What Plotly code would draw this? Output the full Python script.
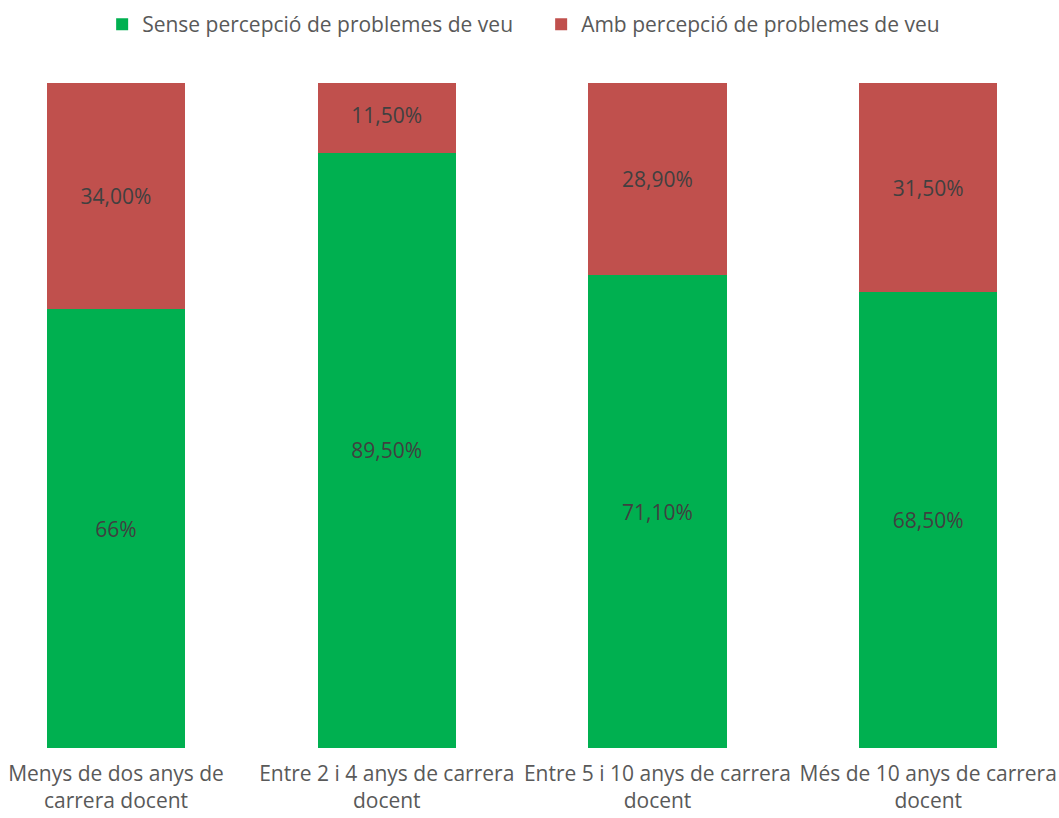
import plotly.graph_objects as go

categories = ["Menys de dos anys de<br>carrera docent",
              "Entre 2 i 4 anys de carrera<br>docent",
              "Entre 5 i 10 anys de carrera<br>docent",
              "Més de 10 anys de carrera<br>docent"]
sense = [66.0, 89.5, 71.1, 68.5]
amb = [34.0, 11.5, 28.9, 31.5]
sense_labels = ["66%", "89,50%", "71,10%", "68,50%"]
amb_labels = ["34,00%", "11,50%", "28,90%", "31,50%"]

FONT = "Open Sans, Noto Sans, sans-serif"

fig = go.Figure()
fig.add_trace(go.Bar(x=categories, y=sense, name="Sense percepció de problemes de veu",
                     marker=dict(color="#00B050", line=dict(width=0)),
                     text=sense_labels, textposition="inside", insidetextanchor="middle",
                     textangle=0, constraintext="none",
                     textfont=dict(size=21, color="#404040", family=FONT),
                     width=0.51, hoverinfo="skip"))
fig.add_trace(go.Bar(x=categories, y=amb, name="Amb percepció de problemes de veu",
                     marker=dict(color="#C0504D", line=dict(width=0)),
                     text=amb_labels, textposition="inside", insidetextanchor="middle",
                     textangle=0, constraintext="none",
                     textfont=dict(size=21, color="#404040", family=FONT),
                     width=0.51, hoverinfo="skip"))

fig.update_layout(
    barmode="stack",
    width=1059, height=818,
    margin=dict(l=0, r=0, t=83, b=70, autoexpand=False),
    paper_bgcolor="white", plot_bgcolor="white",
    font=dict(family=FONT, size=21, color="#595959"),
    showlegend=True,
    legend=dict(orientation="h", x=0.511, xanchor="center", y=1.088, yanchor="middle",
                font=dict(size=21, color="#595959"), itemwidth=30,
                entrywidth=394, traceorder="normal"),
    xaxis=dict(range=[-0.4285, 3.483], showgrid=False, showline=False, zeroline=False,
               tickfont=dict(size=21, color="#595959"), ticks="", ticklabelstandoff=11),
    yaxis=dict(range=[0, 100], visible=False),
    uniformtext=dict(mode=False),
)

fig.write_html("out.html")
